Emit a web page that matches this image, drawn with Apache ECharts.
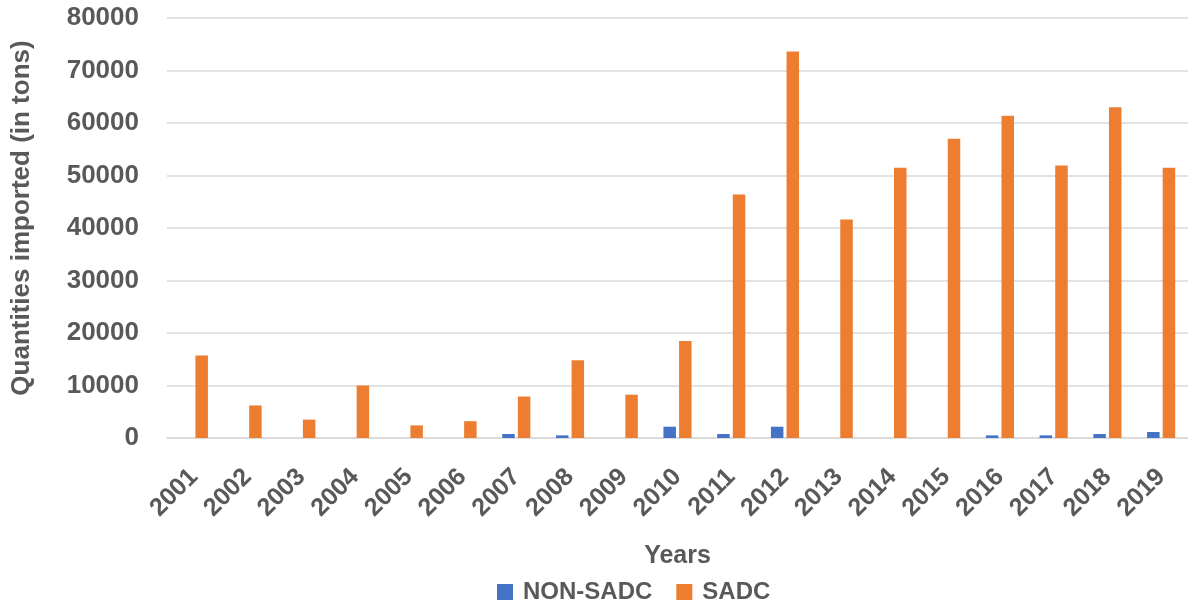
<!DOCTYPE html>
<html>
<head>
<meta charset="utf-8">
<title>Quantities imported</title>
<script src="https://cdn.jsdelivr.net/npm/echarts@6/dist/echarts.min.js"></script>
<style>
  html, body { margin: 0; padding: 0; background: #ffffff; }
  #chart { width: 1188px; height: 605px; }
</style>
</head>
<body>
<div id="chart"></div>
<script>
// Annual quantities imported, in tons
const years = ['2001','2002','2003','2004','2005','2006','2007','2008','2009','2010',
               '2011','2012','2013','2014','2015','2016','2017','2018','2019'];
const nonSadc = [0, 0, 0, 0, 0, 0, 760, 500, 0, 2150, 760, 2150, 0, 0, 0, 500, 500, 760, 1140];
const sadc = [15700, 6200, 3500, 10000, 2400, 3200, 7900, 14800, 8250, 18500,
              46400, 73600, 41600, 51500, 57000, 61400, 51900, 63000, 51500];
const yTicks = [0, 10000, 20000, 30000, 40000, 50000, 60000, 70000, 80000];

const FONT = '"Liberation Sans", Arial, sans-serif';
const TEXT = '#595959';

const chart = echarts.init(document.getElementById('chart'), null, { renderer: 'canvas' });
chart.setOption({
  animation: false,
  backgroundColor: '#ffffff',
  textStyle: { fontFamily: FONT },
  grid: { left: 167, top: 18, bottom: 167, width: 1030, containLabel: false },
  legend: {
    left: 492, top: 575,
    itemWidth: 16, itemHeight: 16, itemGap: 24,
    icon: 'rect',
    textStyle: { fontFamily: FONT, fontSize: 24, fontWeight: 'bold', color: TEXT, padding: [0, 0, 0, 5] },
    data: ['NON-SADC', 'SADC']
  },
  xAxis: {
    type: 'category',
    data: years,
    name: 'Years',
    nameLocation: 'middle',
    nameGap: 106,
    nameTextStyle: { fontFamily: FONT, fontSize: 25, fontWeight: 'bold', color: TEXT },
    axisLine: { show: true, lineStyle: { color: '#d9d9d9', width: 1.5 } },
    axisTick: { show: false },
    axisLabel: { rotate: 45, fontFamily: FONT, fontSize: 25, fontWeight: 'bold', color: TEXT, margin: 35 }
  },
  yAxis: {
    type: 'value',
    min: yTicks[0],
    max: yTicks[yTicks.length - 1],
    interval: yTicks[1] - yTicks[0],
    name: 'Quantities imported (in tons)',
    nameLocation: 'middle',
    nameGap: 132,
    nameTextStyle: { fontFamily: FONT, fontSize: 26, fontWeight: 'bold', color: TEXT, padding: [0, 0, 0, 20] },
    axisLine: { show: false },
    axisTick: { show: false },
    axisLabel: {
      fontFamily: FONT, fontSize: 26, fontWeight: 'bold', color: TEXT, margin: 28,
      formatter: (v) => String(v)
    },
    splitLine: { lineStyle: { color: '#d9d9d9', width: 1.5 } }
  },
  series: [
    {
      name: 'NON-SADC', type: 'bar', data: nonSadc,
      barWidth: 12.5, barGap: '25%',
      itemStyle: { color: '#4472C4' }
    },
    {
      name: 'SADC', type: 'bar', data: sadc,
      barWidth: 12.5, barGap: '25%',
      itemStyle: { color: '#ED7D31' }
    }
  ]
});
</script>
</body>
</html>
